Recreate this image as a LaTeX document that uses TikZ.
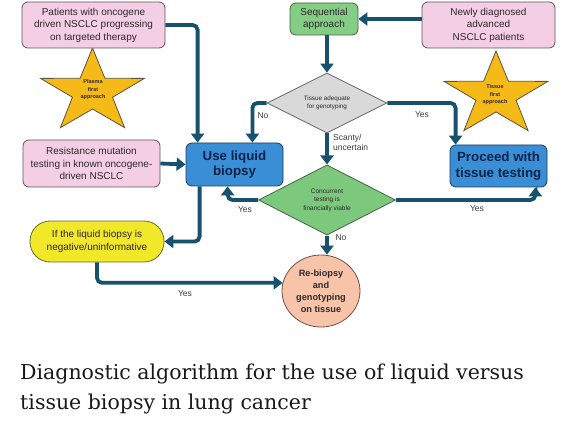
\documentclass[tikz,border=0pt]{standalone}
\usepackage{fontspec}
\setmainfont{Liberation Sans}
\newfontfamily\capfont{DejaVu Serif}
\usetikzlibrary{shapes.geometric,arrows.meta}
\definecolor{edgec}{RGB}{22,82,110}
\definecolor{pinkf}{RGB}{244,206,229}
\definecolor{pinkd}{RGB}{95,85,95}
\definecolor{greenf}{RGB}{132,205,132}
\definecolor{greend}{RGB}{70,100,70}
\definecolor{grayf}{RGB}{217,217,217}
\definecolor{grayd}{RGB}{100,100,100}
\definecolor{cgreen}{RGB}{124,200,124}
\definecolor{bluef}{RGB}{58,142,214}
\definecolor{blued}{RGB}{28,60,92}
\definecolor{bluet}{RGB}{10,35,72}
\definecolor{yelf}{RGB}{240,232,40}
\definecolor{yeld}{RGB}{110,105,40}
\definecolor{peachf}{RGB}{247,196,170}
\definecolor{peachd}{RGB}{110,80,70}
\definecolor{starf}{RGB}{245,186,24}
\definecolor{stard}{RGB}{90,85,60}
\definecolor{txt}{RGB}{45,40,45}
\definecolor{lblc}{RGB}{60,60,60}
\begin{document}
\begin{tikzpicture}[x=1pt,y=-1pt,
  box/.style={draw, line width=0.8pt, rounded corners=6pt, align=center, inner sep=1pt, text=txt},
  pinkbox/.style={box, fill=pinkf, draw=pinkd, font=\fontsize{10}{12.5}\selectfont},
  bluebox/.style={box, fill=bluef, draw=blued, text=bluet, font=\bfseries\fontsize{13.3}{15.5}\selectfont},
  dia/.style={diamond, draw, line width=0.8pt, align=center, inner sep=0pt, text=txt},
  conn/.style={draw=edgec, line width=3.8pt, rounded corners=5pt, -{Triangle[length=9pt,width=13pt]}},
  lbl/.style={font=\fontsize{8.5}{10}\selectfont, text=lblc, inner sep=0pt},
  startxt/.style={font=\bfseries\fontsize{5.5}{7.5}\selectfont, align=center, text=txt, inner sep=0pt},
  capt/.style={font=\capfont\fontsize{20.5}{29}\selectfont, text={rgb,255:red,25;green,25;blue,25}, anchor=base west, inner sep=0pt}
]
\useasboundingbox (0,0) rectangle (576,433);
\fill[white] (0,0) rectangle (576,433);

% stars
\filldraw[fill=starf, draw=stard, line width=0.8pt, shift={(92.5,92)}, xscale=1.24]
  (270:44) -- (306:17) -- (342:44) -- (18:17) -- (54:44) -- (90:17) -- (126:44) -- (162:17) -- (198:44) -- (234:17) -- cycle;
\filldraw[fill=starf, draw=stard, line width=0.8pt, shift={(496,95)}, xscale=1.24]
  (270:44) -- (306:17) -- (342:44) -- (18:17) -- (54:44) -- (90:17) -- (126:44) -- (162:17) -- (198:44) -- (234:17) -- cycle;
\node[startxt] (plasma) at (93,90) {Plasma\\first\\approach};
\node[startxt] (tissuefirst) at (495,95) {Tissue\\first\\approach};

% boxes
\node[pinkbox, minimum width=143pt, minimum height=46pt] (pat) at (93.5,25) {Patients with oncogene\\driven NSCLC progressing\\on targeted therapy};
\node[box, fill=greenf, draw=greend, minimum width=68pt, minimum height=32pt, font=\fontsize{10}{12.5}\selectfont] (seq) at (324,19) {Sequential\\approach};
\node[pinkbox, minimum width=133pt, minimum height=46pt] (new) at (488.5,25) {Newly diagnosed\\advanced\\NSCLC patients};
\node[pinkbox, minimum width=137pt, minimum height=47pt] (res) at (91.5,163.5) {Resistance mutation\\testing in known oncogene-\\driven NSCLC};
\node[bluebox, minimum width=97pt, minimum height=43pt] (liq) at (234.5,164.5) {Use liquid\\biopsy};
\node[bluebox, minimum width=97pt, minimum height=42pt] (pro) at (498.5,166) {Proceed with\\tissue testing};
\node[box, fill=yelf, draw=yeld, rounded corners=20pt, minimum width=134pt, minimum height=41pt, font=\fontsize{10}{12.5}\selectfont] (yel) at (97,241.5) {If the liquid biopsy is\\negative/uninformative};
\node[ellipse, draw=peachd, fill=peachf, line width=0.8pt, minimum width=78pt, minimum height=72pt, inner sep=0pt, align=center, text=txt, font=\bfseries\fontsize{9.2}{12}\selectfont] (reb) at (321,291) {Re-biopsy\\and\\genotyping\\on tissue};
\node[dia, fill=grayf, draw=grayd, minimum width=120pt, minimum height=44pt, font=\fontsize{6.3}{7.8}\selectfont] (tad) at (327,103) {Tissue adequate\\for genotyping};
\node[dia, fill=cgreen, draw=greend, minimum width=137pt, minimum height=65pt, font=\fontsize{6.5}{8.5}\selectfont] (con) at (327,200) {Concurrent\\testing is\\financially viable};

% connectors
\draw[conn] (pat.east) -| ([xshift=12pt]liq.north west);
\draw[conn] (tad.west) -| ([xshift=-31pt]liq.north east);
\draw[conn] (tad.east) -| ([xshift=6pt]pro.north west);
\draw[conn] (new.west |- seq.east) -- (seq.east);
\draw[conn] (tad.north |- seq.south) -- (tad.north);
\draw[conn] (res.east) -- (liq.west);
\draw[conn] (tad.south) -- (con.north);
\draw[conn] (con.west) -| ([xshift=42pt]liq.south west);
\draw[conn] (con.east) -| ([xshift=-12pt]pro.south east);
\draw[conn] (con.south) -- (con.south |- reb.north);
\draw[conn] ([xshift=14pt]liq.south west) |- (yel.east);
\draw[conn] (yel.south) |- (reb.168);

% labels
\node[lbl] (l1) at (263,116) {No};
\node[lbl] (l2) at (422,115) {Yes};
\node[lbl, anchor=west, align=left] (l3) at (333,142) {Scanty/\\uncertain};
\node[lbl] (l4) at (245,210) {Yes};
\node[lbl] (l5) at (477,209) {Yes};
\node[lbl] (l6) at (341,238) {No};
\node[lbl] (l7) at (185,294) {Yes};

% caption
\node[capt] (cap1) at (20,379) {Diagnostic algorithm for the use of liquid versus};
\node[capt] (cap2) at (20,409) {tissue biopsy in lung cancer};
\end{tikzpicture}
\end{document}
